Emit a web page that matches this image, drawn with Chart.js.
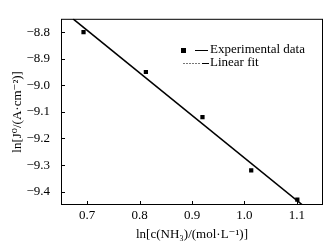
<!DOCTYPE html>
<html lang="en">
<head>
    <meta charset="UTF-8">
    <title>ln J0 vs ln c(NH3)</title>
    <script src="https://cdn.jsdelivr.net/npm/chart.js@4.4.1/dist/chart.umd.min.js"></script>
    <style>
        html, body {
            margin: 0;
            padding: 0;
            background: #fff;
        }
        #wrap {
            width: 334px;
            height: 252px;
        }
    </style>
</head>
<body>
    <div id="wrap"><canvas id="chart" width="334" height="252"></canvas></div>

    <script>
        // values
        const expX = [0.693, 0.812, 0.920, 1.013, 1.101];
        const expY = [-8.80, -8.95, -9.12, -9.32, -9.43];
        const fitX = [0.673, 1.111];
        const fitY = [-8.75, -9.45];
        const xTicks = [0.7, 0.8, 0.9, 1.0, 1.1];
        const yTicks = [-8.8, -8.9, -9.0, -9.1, -9.2, -9.3, -9.4];

        const serif = '"Liberation Serif", "DejaVu Serif", serif';

        function fmt(v) {
            const s = v.toFixed(1);
            return s.replace('-', '\u2212');
        }

        // inward ticks, frame and the little legend inside the plot
        const framePlugin = {
            id: 'frame',
            afterDraw(chart) {
                const ctx = chart.ctx;
                const a = chart.chartArea;
                const xs = chart.scales.x;
                const ys = chart.scales.y;
                ctx.save();
                ctx.strokeStyle = '#000';
                ctx.lineWidth = 1;
                ctx.strokeRect(a.left + 0.5, a.top + 0.5, a.right - a.left - 1, a.bottom - a.top - 1);
                ctx.beginPath();
                xTicks.forEach(t => {
                    const px = Math.round(xs.getPixelForValue(t)) + 0.5;
                    ctx.moveTo(px, a.bottom);
                    ctx.lineTo(px, a.bottom - 4);
                });
                yTicks.forEach(t => {
                    const py = Math.round(ys.getPixelForValue(t)) + 0.5;
                    ctx.moveTo(a.left, py);
                    ctx.lineTo(a.left + 4, py);
                });
                ctx.stroke();

                // legend
                ctx.font = '13px ' + serif;
                ctx.fillStyle = '#000';
                ctx.textBaseline = 'middle';
                ctx.fillRect(181, 48, 5, 5);
                ctx.beginPath();
                ctx.moveTo(195, 50.5);
                ctx.lineTo(208, 50.5);
                ctx.stroke();
                ctx.fillText('Experimental data', 210, 50);

                ctx.save();
                ctx.strokeStyle = '#777';
                ctx.setLineDash([2, 1]);
                ctx.beginPath();
                ctx.moveTo(183, 63.5);
                ctx.lineTo(200, 63.5);
                ctx.stroke();
                ctx.restore();
                ctx.beginPath();
                ctx.moveTo(202, 63.5);
                ctx.lineTo(209, 63.5);
                ctx.stroke();
                ctx.fillText('Linear fit', 210, 63);
                ctx.restore();
            }
        };

        new Chart(document.getElementById('chart'), {
            type: 'scatter',
            data: {
                datasets: [
                    {
                        label: 'Experimental data',
                        data: expX.map((x, i) => ({ x: x, y: expY[i] })),
                        pointStyle: 'rect',
                        pointRadius: 3,
                        backgroundColor: '#000',
                        borderColor: '#000',
                        borderWidth: 0
                    },
                    {
                        label: 'Linear fit',
                        type: 'line',
                        data: fitX.map((x, i) => ({ x: x, y: fitY[i] })),
                        borderColor: '#000',
                        borderWidth: 1.6,
                        pointRadius: 0,
                        fill: false
                    }
                ]
            },
            options: {
                responsive: false,
                animation: false,
                devicePixelRatio: 1,
                layout: { padding: { top: 6, right: 11, left: 0, bottom: 0 } },
                plugins: {
                    legend: { display: false },
                    tooltip: { enabled: false }
                },
                scales: {
                    x: {
                        type: 'linear',
                        min: 0.65,
                        max: 1.15,
                        afterBuildTicks: s => { s.ticks = xTicks.map(v => ({ value: v })); },
                        afterFit: s => { s.height = 47; },
                        grid: { display: false, drawTicks: false },
                        border: { display: false },
                        ticks: {
                            color: '#000',
                            padding: 3,
                            font: { family: serif, size: 13 },
                            callback: v => fmt(v)
                        },
                        title: {
                            display: true,
                            text: 'ln[c(NH\u2083)/(mol\u00b7L\u207b\u00b9)]',
                            color: '#000',
                            padding: { top: 0, bottom: 10 },
                            font: { family: serif, size: 13 }
                        }
                    },
                    y: {
                        type: 'linear',
                        min: -9.45,
                        max: -8.75,
                        afterBuildTicks: s => { s.ticks = yTicks.map(v => ({ value: v })); },
                        afterFit: s => { s.width = 61; },
                        grid: { display: false, drawTicks: false },
                        border: { display: false },
                        ticks: {
                            color: '#000',
                            padding: 11,
                            font: { family: serif, size: 13 },
                            callback: v => fmt(v)
                        },
                        title: {
                            display: true,
                            text: 'ln[J\u2070/(A\u00b7cm\u207b\u00b2)]',
                            color: '#000',
                            padding: { top: 10, bottom: 0 },
                            font: { family: serif, size: 13 }
                        }
                    }
                }
            },
            plugins: [framePlugin]
        });
    </script>
</body>
</html>
